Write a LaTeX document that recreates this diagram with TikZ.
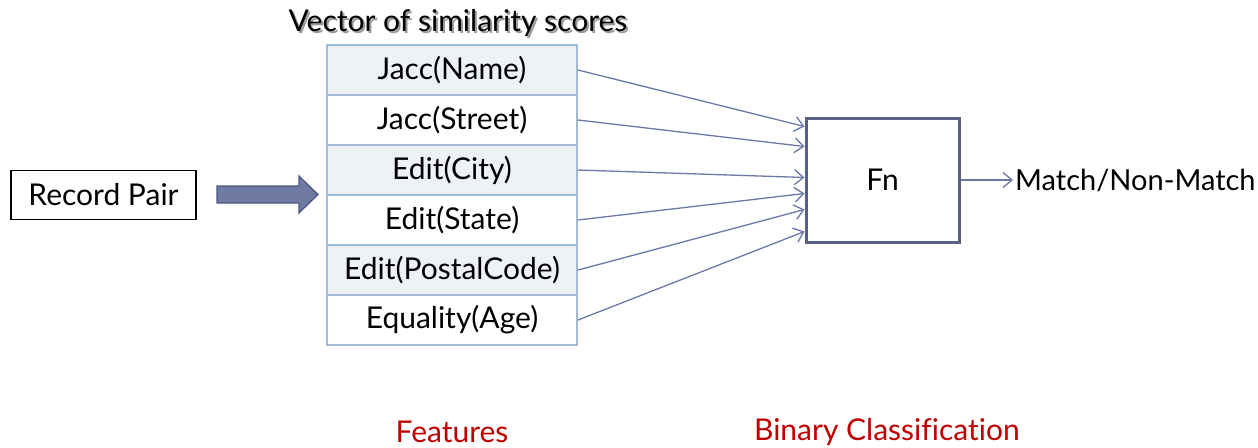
\documentclass[tikz,border=0pt]{standalone}
\usepackage{fontspec}
\setmainfont{Lato}[Ligatures={NoCommon}]
\usetikzlibrary{arrows.meta}

\definecolor{gridline}{HTML}{A3BAD3}
\definecolor{rowfill}{HTML}{EEF2F6}
\definecolor{link}{HTML}{6B78A6}
\definecolor{fnframe}{HTML}{585F80}
\definecolor{bigarrow}{HTML}{6F7BA3}
\definecolor{bigarrowedge}{HTML}{4B5582}
\definecolor{caption}{HTML}{C00000}
\definecolor{shadowgray}{HTML}{9A9A9A}

\begin{document}
\begin{tikzpicture}[x=1pt,y=-1pt,
  font=\fontsize{30}{36}\selectfont,
  cell/.style={draw=gridline, line width=2pt, minimum width=250pt,
    minimum height=50pt, inner sep=0pt, anchor=center},
  shaded/.style={cell, fill=rowfill},
  plain/.style={cell, fill=white},
  recbox/.style={draw=black, line width=1.2pt, minimum width=185pt,
    minimum height=49pt, inner sep=0pt},
  fnbox/.style={draw=fnframe, line width=3pt, minimum width=153pt,
    minimum height=124pt, inner sep=0pt},
  feed/.style={draw=link, line width=1.3pt,
    -{Straight Barb[length=9pt, width=15pt, line width=1.3pt]}},
  captiontext/.style={text=caption, inner sep=0pt}
]
\useasboundingbox (0,0) rectangle (1258,447);

% heading with its drop shadow
\node[text=shadowgray, inner sep=0pt] (titleshadow) at (460,25) {Vector of similarity scores};
\node[inner sep=0pt] (title) at (458,23) {Vector of similarity scores};

% the feature vector
\node[shaded] (r1) at (452,70)  {Jacc(Name)};
\node[plain]  (r2) at (452,120) {Jacc(Street)};
\node[shaded] (r3) at (452,170) {Edit(City)};
\node[plain]  (r4) at (452,220) {Edit(State)};
\node[shaded] (r5) at (452,270) {Edit(PostalCode)};
\node[plain]  (r6) at (452,320) {Equality(Age)};

% input record pair
\node[recbox] (rp) at (103.5,195) {Record Pair};

% block arrow into the vector
\draw[fill=bigarrow, draw=bigarrowedge, line width=1.2pt, line join=miter]
  (217,186) -- (299,186) -- (299,176) -- (318,194.5) -- (299,213)
  -- (299,203) -- (217,203) -- cycle;

% classifier
\node[fnbox] (fn) at (882.5,180) {Fn};
\node[anchor=west, inner sep=2pt, font=\fontsize{29}{35}\selectfont] (out) at (1013,180) {Match/Non-Match};

\path (fn.north west) ++(0,10)  coordinate (fnin1);
\path (fn.north west) ++(0,30)  coordinate (fnin2);
\path (fn.north west) ++(0,61)  coordinate (fnin3);
\path (fn.north west) ++(0,77)  coordinate (fnin4);
\path (fn.north west) ++(0,93)  coordinate (fnin5);
\path (fn.north west) ++(0,115) coordinate (fnin6);

\draw[feed] (r1.east) -- (fnin1);
\draw[feed] (r2.east) -- (fnin2);
\draw[feed] (r3.east) -- (fnin3);
\draw[feed] (r4.east) -- (fnin4);
\draw[feed] (r5.east) -- (fnin5);
\draw[feed] (r6.east) -- (fnin6);

\draw[feed] (fn.east) -- (out.west);

% captions
\node[captiontext] (feat) at (452,432) {Features};
\node[captiontext] (bincls) at (887,432) {Binary Classification};
\end{tikzpicture}
\end{document}
